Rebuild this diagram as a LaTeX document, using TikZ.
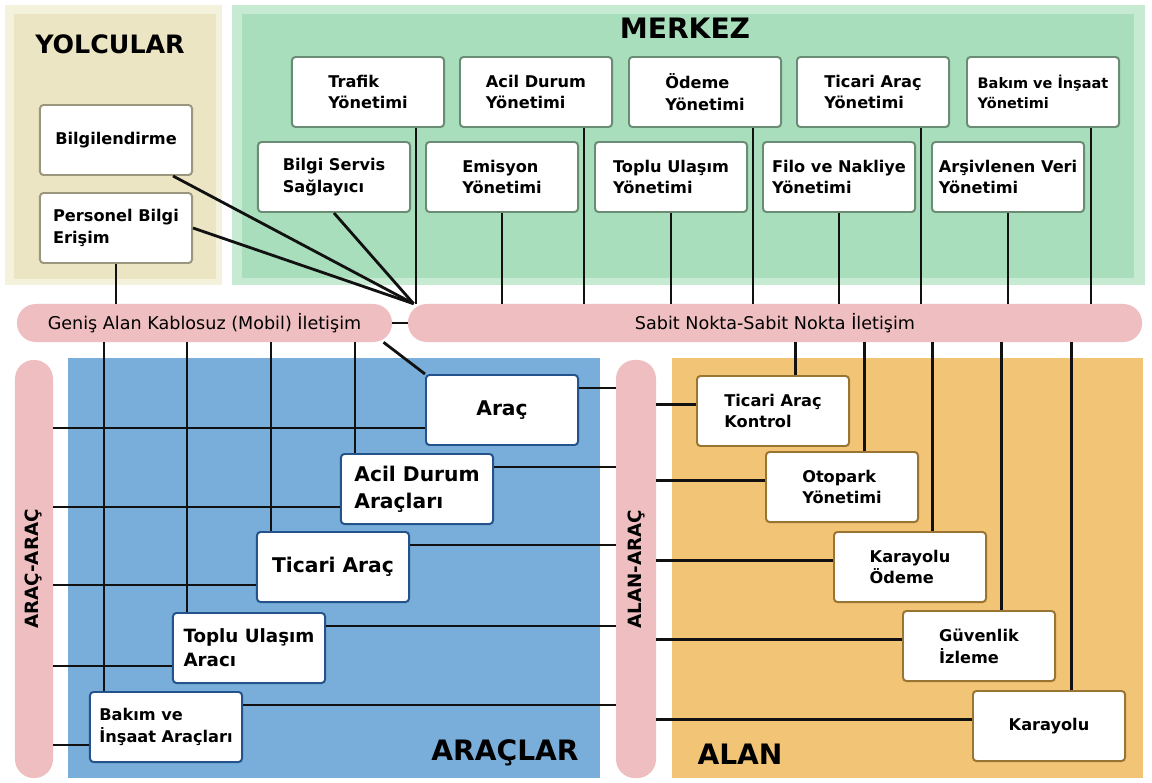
\documentclass[tikz,border=0pt]{standalone}
\usepackage{fontspec}
\setmainfont{DejaVu Sans}
\usepackage{xcolor}
\usetikzlibrary{positioning,calc}
\definecolor{YolcuLight}{HTML}{F4F1DC}
\definecolor{YolcuFill}{HTML}{ECE5C3}
\definecolor{MerkezLight}{HTML}{C6EAD2}
\definecolor{MerkezFill}{HTML}{A8DEBB}
\definecolor{AracFill}{HTML}{79AEDA}
\definecolor{AlanFill}{HTML}{F2C475}
\definecolor{BarPink}{HTML}{EFBEC0}
\definecolor{YolcuEdge}{HTML}{9A977E}
\definecolor{MerkezEdge}{HTML}{6A8C74}
\definecolor{AracEdge}{HTML}{24528A}
\definecolor{AlanEdge}{HTML}{9A7433}
\definecolor{LinkBlack}{HTML}{111111}
\tikzset{
    % Base box style
    basebox/.style={
        draw,
        fill=white,
        rounded corners=2.5pt,
        line width=1.4pt,
        minimum width=3.8cm,
        minimum height=1.75cm,
        align=left,
        inner sep=2pt,
        font=\fontsize{11.5}{15.5}\selectfont\bfseries
    },
    % Boxes per region
    yolcubox/.style={basebox, draw=YolcuEdge},
    merkezbox/.style={basebox, draw=MerkezEdge},
    aracbox/.style={basebox, draw=AracEdge},
    aracbigbox/.style={
        aracbox,
        align=center,
        font=\fontsize{14.4}{19}\selectfont\bfseries
    },
    alanbox/.style={basebox, draw=AlanEdge},
    % Communication bars
    hbar/.style={
        fill=BarPink,
        rounded corners=0.47cm,
        minimum height=0.95cm,
        inner sep=0pt,
        font=\fontsize{12.5}{15}\selectfont
    },
    vbar/.style={
        fill=BarPink,
        rounded corners=0.47cm,
        minimum width=0.95cm,
        minimum height=10.45cm,
        inner sep=0pt
    },
    vlabel/.style={
        rotate=90,
        font=\fontsize{13}{15}\selectfont\bfseries
    },
    % Region titles
    regiontitle/.style={
        inner sep=0pt,
        font=\fontsize{20}{24}\selectfont\bfseries
    },
    % Connector
    link/.style={
        line width=2pt,
        draw=LinkBlack
    }
}

\begin{document}
\begin{tikzpicture}[x=0.025cm, y=-0.025cm]
        \useasboundingbox (0,0) rectangle (1152,783);
        \fill[white] (0,0) rectangle (1152,783);

        % Regions
        \fill[YolcuLight] (5,5) rectangle (222,285);
        \fill[YolcuFill] (14,14) rectangle (216,279);
        \fill[MerkezLight] (232,5) rectangle (1145,285);
        \fill[MerkezFill] (242,14) rectangle (1134,278);
        \fill[AracFill] (68,358) rectangle (600,778);
        \fill[AlanFill] (672,358) rectangle (1143,778);

        % Titles
        \node[regiontitle, font=\fontsize{18}{22}\selectfont\bfseries] (yolculartitle) at (110,44) {YOLCULAR};
        \node[regiontitle] (merkeztitle) at (685,28) {MERKEZ};
        \node[regiontitle] (araclartitle) at (505,753) {ARAÇLAR};
        \node[regiontitle] (alantitle) at (740,754) {ALAN};

        % Yolcular
        \node[yolcubox] (bilgilendirme) at (116,140) {Bilgilendirme};
        \node[yolcubox] (personel) at (116,228) {Personel Bilgi\\Erişim};

        % Merkez, upper row
        \node[merkezbox] (trafik) at (368,92) {Trafik\\Yönetimi};
        \node[merkezbox] (aciliyon) at (536,92) {Acil Durum\\Yönetimi};
        \node[merkezbox] (odeme) at (705,92) {Ödeme\\Yönetimi};
        \node[merkezbox] (ticariyon) at (873,92) {Ticari Araç\\Yönetimi};
        \node[merkezbox, font=\fontsize{10.3}{14.5}\selectfont\bfseries] (bakimyon) at (1043,92) {Bakım ve İnşaat\\Yönetimi};

        % Merkez, lower row
        \node[merkezbox] (bilgiservis) at (334,177) {Bilgi Servis\\Sağlayıcı};
        \node[merkezbox] (emisyon) at (502,177) {Emisyon\\Yönetimi};
        \node[merkezbox] (topluyon) at (671,177) {Toplu Ulaşım\\Yönetimi};
        \node[merkezbox] (filo) at (839,177) {Filo ve Nakliye\\Yönetimi};
        \node[merkezbox] (arsiv) at (1008,177) {Arşivlenen Veri\\Yönetimi};

        % Communication bars
        \node[hbar, minimum width=9.375cm] (genis) at (204.5,323) {Geniş Alan Kablosuz (Mobil) İletişim};
        \node[hbar, minimum width=18.35cm] (sabit) at (775,323) {Sabit Nokta-Sabit Nokta İletişim};
        \node[vbar, label={[vlabel]center:ARAÇ-ARAÇ}] (aracarac) at (34,569) {};
        \node[vbar, minimum width=1cm, label={[vlabel]center:ALAN-ARAÇ}] (alanarac) at (636,569) {};

        % Araclar
        \node[aracbigbox] (arac) at (502,410) {Araç};
        \node[aracbigbox, align=left] (acilarac) at (417,489) {Acil Durum\\Araçları};
        \node[aracbigbox] (ticariarac) at (333,567) {Ticari Araç};
        \node[aracbox, font=\fontsize{13}{17}\selectfont\bfseries] (topluarac) at (249,648) {Toplu Ulaşım\\Aracı};
        \node[aracbox] (bakimarac) at (166,727) {Bakım ve\\İnşaat Araçları};

        % Alan
        \node[alanbox] (ticarikontrol) at (773,411) {Ticari Araç\\Kontrol};
        \node[alanbox] (otopark) at (842,487) {Otopark\\Yönetimi};
        \node[alanbox] (karayoluodeme) at (910,567) {Karayolu\\Ödeme};
        \node[alanbox] (guvenlik) at (979,646) {Güvenlik\\İzleme};
        \node[alanbox] (karayolu) at (1049,726) {Karayolu};

        % Merkez to fixed point bar
        \foreach \n in {trafik,aciliyon,odeme,ticariyon,bakimyon}{
            \coordinate (\n-drop) at ([xshift=1.2cm]\n.south);
            \draw[link] (\n-drop) -- (\n-drop |- sabit.north);
        }
        \foreach \n in {emisyon,topluyon,filo,arsiv}
            \draw[link] (\n.south) -- (\n.south |- sabit.north);

        % Yolcular and service provider
        \coordinate (hub) at ([xshift=0.15cm]sabit.north west);
        \draw[link] ([xshift=1.425cm]bilgilendirme.south) -- (hub);
        \draw[link] (personel.east) -- (hub);
        \draw[link] (bilgiservis.south) -- (hub);
        \draw[link] (personel.south) -- (personel.south |- genis.north);
        \draw[link] (genis.east) -- (sabit.west);
        \draw[link] ([xshift=-0.22cm]genis.south east) -- (arac.north west);

        % Wide area wireless to vehicles
        \foreach \n in {acilarac,ticariarac,topluarac,bakimarac}{
            \coordinate (\n-up) at ([xshift=-1.55cm]\n.north);
            \draw[link] (\n-up) -- (\n-up |- genis.south);
        }

        % Vehicle to vehicle, vehicle to field
        \foreach \n in {arac,acilarac,ticariarac,topluarac,bakimarac}{
            \coordinate (\n-in) at ([yshift=-0.45cm]\n.west);
            \draw[link] (\n-in) -- (\n-in -| aracarac.east);
            \coordinate (\n-out) at ([yshift=0.55cm]\n.east);
            \draw[link] (\n-out) -- (\n-out -| alanarac.west);
        }

        % Field devices
        \foreach \n in {ticarikontrol,otopark,karayoluodeme,guvenlik,karayolu}{
            \coordinate (\n-in) at ([yshift=0.16cm]\n.west);
            \draw[link] (\n-in) -- (\n-in -| alanarac.east);
            \coordinate (\n-up) at ([xshift=0.57cm]\n.north);
            \draw[link] (\n-up) -- (\n-up |- sabit.south);
        }
    \end{tikzpicture}
\end{document}
